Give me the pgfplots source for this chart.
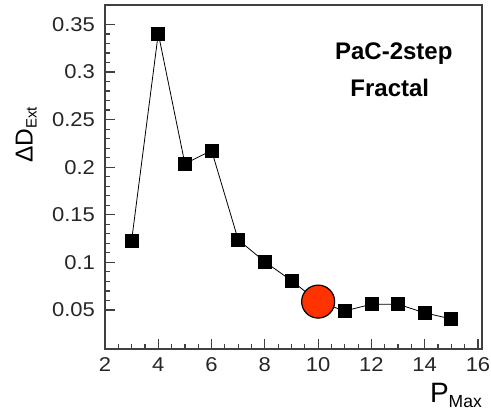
\documentclass[border=0pt]{standalone}
\usepackage{fontspec}
\setmainfont{Liberation Sans}
\newfontfamily\tickfont[FakeStretch=1.1]{Liberation Sans}
\usepackage{pgfplots}
\pgfplotsset{compat=1.18}
\definecolor{markred}{HTML}{FF3300}
\definecolor{framegray}{HTML}{404040}
\begin{document}
\begin{tikzpicture}
\begin{axis}[
  name=main,
  scale only axis,
  width=377pt, height=344pt,
  xmin=2, xmax=16.15,
  ymin=0.009, ymax=0.3704,
  xtick={2,4,...,16},
  ytick={0.05,0.1,...,0.36},
  minor x tick num=3,
  minor y tick num=4,
  xtick pos=left, ytick pos=left,
  tick align=inside,
  major tick length=10pt,
  minor tick length=5pt,
  axis line style={framegray, line width=1.4pt},
  every tick/.style={framegray, line width=1.2pt},
  /pgf/number format/assume math mode=true,
  ticklabel style={font=\tickfont\fontsize{20}{22}\selectfont, text=black!85},
  yticklabel style={/pgf/number format/fixed, /pgf/number format/precision=2},
  xticklabel style={yshift=-5pt},
  yticklabel style={xshift=-6.5pt},
  xlabel={\fontsize{28}{30}\selectfont P\raisebox{-5pt}{\fontsize{17.5}{18}\selectfont Max}},
  xlabel style={at={(rel axis cs:1,0)}, anchor=north east, yshift=-34pt, inner sep=0pt},
  ylabel={\fontsize{24.5}{26}\selectfont ΔD\raisebox{-4pt}{\fontsize{15}{16}\selectfont Ext}},
  ylabel style={at={(rel axis cs:0,0.6226)}, anchor=south, yshift=68pt, inner sep=0pt},
  clip=false,
]
\addplot[black, line width=0.8pt, mark=square*, mark size=6.5pt,
  mark options={fill=black, solid}] coordinates {
  (3,0.123) (4,0.3405) (5,0.2036) (6,0.2176) (7,0.1237) (8,0.1006)
  (9,0.0808) (10,0.0588) (11,0.049) (12,0.056) (13,0.056) (14,0.047) (15,0.0405)
};
\addplot[only marks, mark=*, mark size=16.5pt,
  mark options={fill=markred, draw=black, line width=1.2pt}] coordinates {(10,0.0588)};
\node[font=\fontsize{24}{26}\bfseries\selectfont, anchor=base] at (axis cs:12.84,0.3129) {PaC-2step};
\node[font=\fontsize{24}{26}\bfseries\selectfont, anchor=base] at (axis cs:12.69,0.2743) {Fractal};
\end{axis}
\pgfresetboundingbox
\path (main.south west) ++(-105pt,-68pt) rectangle ++(491pt,417pt);
\end{tikzpicture}
\end{document}
